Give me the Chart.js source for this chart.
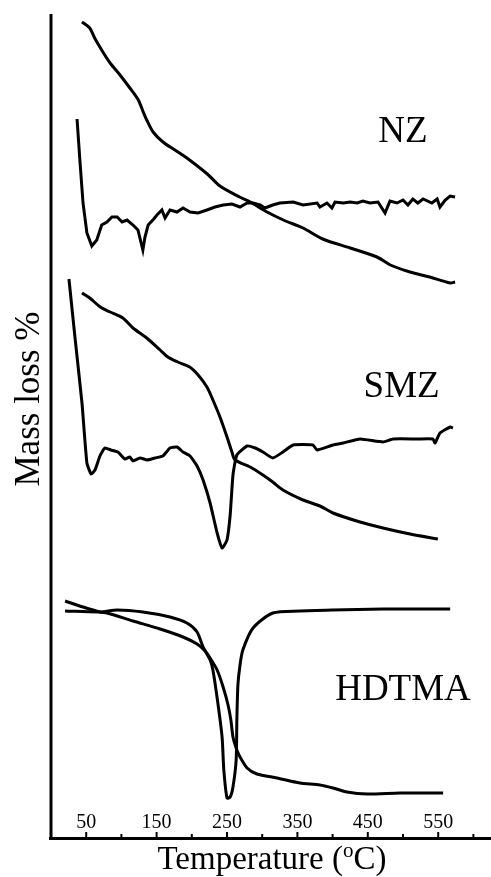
<!DOCTYPE html>
<html>
<head>
<meta charset="utf-8">
<script src="https://cdn.jsdelivr.net/npm/chart.js@4"></script>
<style>
  body { margin: 0; background: #fff; }
  #wrap { width: 491px; height: 877px; }
</style>
</head>
<body>
<div id="wrap"><canvas id="tgaChart" width="491" height="877"></canvas></div>
<script>
// temperatures (°C) and signal values (arbitrary units, 0 = bottom axis)
const nzTgT = [44, 55, 62, 72, 84, 98, 112, 124, 131, 136, 145, 159, 176, 193, 222, 240, 268, 283, 307, 330, 358, 386, 425, 463, 482, 510, 538, 567, 574];
const nzTgV = [816, 810, 800, 788, 775, 763, 750, 738, 726, 718, 706, 696, 688, 680, 664, 652, 641, 636, 626, 618, 610, 599, 590, 581, 573, 566, 561, 555, 556];

const nzDtgT = [37, 41, 45.5, 51, 58, 65, 72, 79.5, 86.5, 94, 101, 108, 116.5, 123.5, 130.5, 133.5, 138, 146, 150.5, 157.5, 162, 169, 179, 187.5, 197.5, 209, 221.5, 233, 244.5, 257, 268.5, 278.5, 287, 297, 304, 315, 325, 344, 358, 378, 382, 392, 399, 403.5, 415, 425, 435, 443, 453, 464.5, 474.5, 481.5, 491.5, 500, 507, 514, 521, 528.5, 541, 548.5, 552.5, 560, 567, 574];
const nzDtgV = [719, 678, 635, 605, 592, 598, 613, 616, 621, 621, 616, 618, 613, 608, 588, 601, 613, 619, 623, 628, 620, 628, 626, 630, 626, 625, 628, 631, 633, 634, 631, 635, 635, 633, 630, 633, 635, 636, 633, 635, 631, 635, 630, 636, 635, 636, 635, 637, 635, 636, 625, 637, 635, 638, 633, 639, 635, 639, 635, 639, 631, 638, 642, 641];

const smzTgT = [44, 55, 70, 84, 102, 116.5, 136, 155, 166, 180, 197, 209, 221.5, 230, 240, 250, 257, 261.5, 283, 301, 315, 329.5, 358, 382, 400.5, 439, 471.5, 510, 549.5];
const smzTgV = [545, 540, 531, 526, 520, 510, 500, 488, 481, 476, 471, 463, 451, 438, 421, 401, 386, 378, 371, 363, 356, 348, 338, 332, 325, 316, 310, 304, 299];

const smzDtgT = [25.5, 34, 44, 51, 57, 62.5, 69.5, 76.5, 85, 95, 105, 112, 116.5, 126.5, 136.5, 147.5, 159, 169, 179, 187.5, 197.5, 207.5, 216, 226, 236, 243, 250, 254.5, 258.5, 264, 278.5, 290, 301, 315, 329.5, 344, 372, 378, 400.5, 415, 439, 471.5, 486, 520, 542.5, 545.5, 552.5, 567, 571];
const smzDtgV = [559, 501, 435, 375, 364, 368, 382, 390, 388, 386, 379, 381, 377, 380, 378, 380, 382, 390, 391, 386, 382, 372, 358, 335, 305, 290, 298, 323, 363, 383, 392, 390, 386, 380, 386, 393, 393, 388, 393, 395, 399, 396, 399, 399, 399, 395, 405, 411, 410];

const hdTgT = [20, 45.5, 69.5, 79.5, 116.5, 155, 187.5, 207.5, 219, 226, 236, 244.5, 251.5, 255.5, 258.5, 264, 268.5, 278.5, 292.5, 321, 353.5, 382, 400.5, 420.5, 449, 495.5, 557];
const hdTgV = [237, 231, 226, 225, 217, 209, 201, 194, 187, 180, 168, 151, 133, 118, 101, 88, 81, 70, 64, 60, 55, 53, 50, 46, 44, 45, 45];

const hdDtgT = [20, 69.5, 94, 130.5, 169, 193, 207.5, 216, 226, 230, 237, 243, 245.5, 250, 254.5, 258.5, 263, 264, 265.5, 268.5, 272.5, 287, 315, 353.5, 400.5, 471.5, 567];
const hdDtgV = [227, 226, 228, 226, 221, 215, 206, 191, 178, 168, 135, 101, 68, 40, 41, 51, 78, 118, 153, 173, 188, 210, 225, 227, 228, 229, 229];

const majorTicks = [50, 150, 250, 350, 450, 550];
const minorTicks = [100, 200, 300, 400, 500, 600];

const sampleNames = ['NZ', 'SMZ', 'HDTMA'];
const nameT = [500, 498, 500];
const nameV = [696, 441, 138];

const xTitle = 'Temperature (';
const yTitle = 'Mass loss %';

function pts(xs, ys) {
    return xs.map((x, i) => ({x: x, y: ys[i]}));
}

function curve(label, xs, ys, tension) {
    return {
        label: label,
        data: pts(xs, ys),
        borderColor: '#000',
        borderWidth: 3,
        pointRadius: 0,
        fill: false,
        tension: tension
    };
}

const SERIF = '"Liberation Serif", "DejaVu Serif", serif';

const decorations = {
    id: 'decorations',
    afterDatasetsDraw(chart) {
        const ctx = chart.ctx;
        const area = chart.chartArea;
        const xs = chart.scales.x;
        const ys = chart.scales.y;
        ctx.save();
        ctx.fillStyle = '#000';
        ctx.strokeStyle = '#000';

        // axis lines
        ctx.lineWidth = 3;
        ctx.beginPath();
        ctx.moveTo(area.left, area.top);
        ctx.lineTo(area.left, area.bottom + 2);
        ctx.moveTo(area.left - 2, area.bottom + 0.5);
        ctx.lineTo(area.right, area.bottom + 0.5);
        ctx.stroke();

        // tick marks point up into the plot
        ctx.lineWidth = 2;
        ctx.beginPath();
        majorTicks.forEach(t => {
            const px = xs.getPixelForValue(t);
            ctx.moveTo(px, area.bottom);
            ctx.lineTo(px, area.bottom - 6);
        });
        minorTicks.forEach(t => {
            const px = xs.getPixelForValue(t);
            ctx.moveTo(px, area.bottom);
            ctx.lineTo(px, area.bottom - 4);
        });
        ctx.stroke();

        // tick labels sit inside, above the axis
        ctx.font = '20px ' + SERIF;
        ctx.textAlign = 'center';
        ctx.textBaseline = 'alphabetic';
        majorTicks.forEach(t => {
            ctx.fillText(String(t), xs.getPixelForValue(t), area.bottom - 10);
        });

        // curve names
        ctx.font = '37px ' + SERIF;
        sampleNames.forEach((name, i) => {
            ctx.fillText(name, xs.getPixelForValue(nameT[i]), ys.getPixelForValue(nameV[i]));
        });

        // x title with superscript o
        ctx.font = '33px ' + SERIF;
        ctx.textAlign = 'left';
        const w1 = ctx.measureText(xTitle).width;
        ctx.font = '21px ' + SERIF;
        const wo = ctx.measureText('o').width;
        ctx.font = '33px ' + SERIF;
        const w2 = ctx.measureText('C)').width;
        const total = w1 + wo + w2;
        let x0 = 272 - total / 2;
        const base = 869;
        ctx.fillText(xTitle, x0, base);
        ctx.font = '21px ' + SERIF;
        ctx.fillText('o', x0 + w1, base - 12);
        ctx.font = '33px ' + SERIF;
        ctx.fillText('C)', x0 + w1 + wo, base);

        // y title
        ctx.translate(39, 399);
        ctx.rotate(-Math.PI / 2);
        ctx.textAlign = 'center';
        ctx.font = '35px ' + SERIF;
        ctx.fillText(yTitle, 0, 0);
        ctx.restore();
    }
};

function renderChart() {
    const ctx = document.getElementById('tgaChart');
    new Chart(ctx, {
        type: 'line',
        data: {
            datasets: [
                curve('NZ TG', nzTgT, nzTgV, 0.3),
                curve('NZ DTG', nzDtgT, nzDtgV, 0),
                curve('SMZ TG', smzTgT, smzTgV, 0.3),
                curve('SMZ DTG', smzDtgT, smzDtgV, 0.15),
                curve('HDTMA TG', hdTgT, hdTgV, 0.25),
                curve('HDTMA DTG', hdDtgT, hdDtgV, 0.25)
            ]
        },
        options: {
            responsive: false,
            animation: false,
            devicePixelRatio: 1,
            layout: { padding: { left: 51, top: 14, right: 0, bottom: 39 } },
            plugins: { legend: { display: false }, tooltip: { enabled: false } },
            scales: {
                x: { type: 'linear', min: 0, max: 625, display: false },
                y: { type: 'linear', min: 0, max: 824, display: false }
            }
        },
        plugins: [decorations]
    });
}

renderChart();
</script>
</body>
</html>
